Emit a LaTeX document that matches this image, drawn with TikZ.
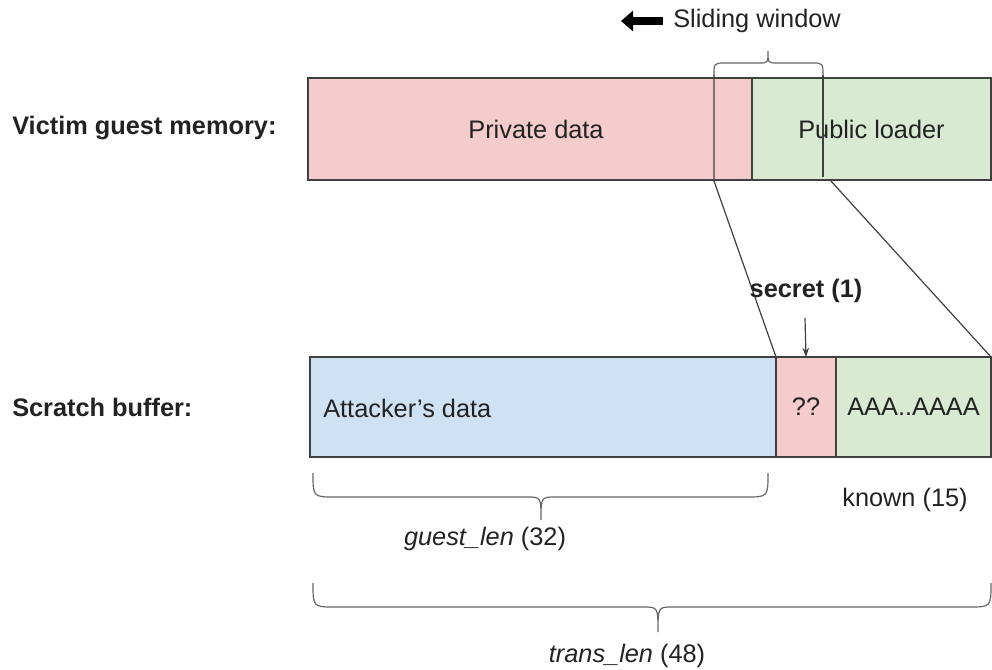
\documentclass[tikz,border=0pt]{standalone}
\usepackage{fontspec}
\setmainfont{Liberation Sans}
\usetikzlibrary{arrows.meta}
\definecolor{pinkfill}{HTML}{F4CCCC}
\definecolor{greenfill}{HTML}{D9EAD3}
\definecolor{bluefill}{HTML}{CFE2F3}
\definecolor{edge}{HTML}{404040}
\definecolor{txt}{HTML}{222222}
\newcommand\curlybrace[8]{% x1,x2,xtip,yend,ymid,ytip,end radius,tip radius
  \draw[bracestyle] (#1,#4) .. controls (#1,#5) .. (#1+#7,#5) -- (#3-#8,#5)
    .. controls (#3,#5) .. (#3,#6) .. controls (#3,#5) .. (#3+#8,#5)
    -- (#2-#7,#5) .. controls (#2,#5) .. (#2,#4);}
\begin{document}
\begin{tikzpicture}[x=0.75pt,y=-0.75pt,
  font=\fontsize{19}{23}\selectfont,
  cell/.style={draw=edge,line width=1pt,anchor=north west,inner sep=0pt,outer sep=0pt,text=txt},
  lbl/.style={inner sep=0pt,text=txt},
  bold/.style={lbl,font=\fontsize{19}{23}\selectfont\bfseries},
  bracestyle/.style={draw=edge!80,line width=0.9pt},
  thin/.style={draw=edge,line width=0.9pt}]
\useasboundingbox (0,0) rectangle (992,670);
% labels
\node[bold,anchor=west] (vgm) at (12,128) {Victim guest memory:};
\node[bold,anchor=west] (sb) at (12,407) {Scratch buffer:};
% top row
\node[cell,fill=pinkfill,minimum width=333pt,minimum height=76.5pt] (priv) at (308,78) {};
\node[lbl] (privt) at (536,129) {Private data};
\node[cell,fill=greenfill,minimum width=179.25pt,minimum height=76.5pt] (pub) at (752,78) {Public loader};
% bottom row
\node[cell,fill=bluefill,minimum width=349.5pt,minimum height=75pt] (atk) at (310,357) {};
\node[lbl,anchor=west] (atkt) at (323,408) {Attacker’s data};
\node[cell,fill=pinkfill,minimum width=45pt,minimum height=75pt] (sec) at (776,357) {??};
\node[cell,fill=greenfill,minimum width=116.25pt,minimum height=75pt] (known) at (836,357) {AAA..AAAA};
% window
\coordinate (wl) at (714,75);
\coordinate (wlb) at (714,181);
\coordinate (wr) at (823,75);
\coordinate (wrb) at (823,177);
\coordinate (wd) at (830,180);
\draw[thin] (wl) -- (wlb) -- (atk.north east);
\draw[thin] (wr) -- (wrb);
\draw[thin] (wd) -- (known.north east);
\curlybrace{714}{823}{768}{76}{63}{51}{11}{9}
% sliding window label
\coordinate (arrs) at (663,21);
\coordinate (arre) at (621,21);
\draw[line width=6pt,-{Triangle[width=15pt,length=9pt]}] (arrs) -- (arre);
\node[lbl,anchor=west] (sw) at (673,21) {Sliding window};
% secret
\node[bold] (sect) at (806,291) {secret (1)};
\coordinate (sa) at (805,318);
\draw[thin,-{Stealth[length=7pt,width=5pt]}] (sa) -- (sec.north);
% braces below
\curlybrace{313}{768}{541}{473}{497}{520}{22}{15}
\node[lbl] (gl) at (485,539) {\textit{guest\_len} (32)};
\node[lbl] (kn) at (905,500) {known (15)};
\curlybrace{313}{991}{658}{583}{607}{632}{22}{15}
\node[lbl] (tl) at (627,656) {\textit{trans\_len} (48)};
\end{tikzpicture}
\end{document}
